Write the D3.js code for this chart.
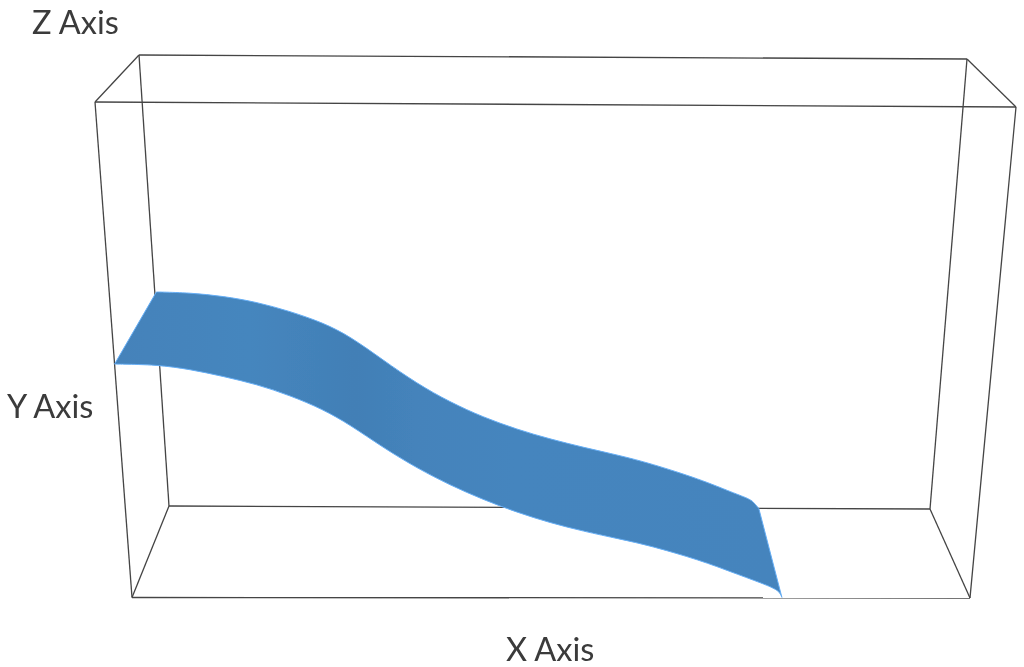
<!DOCTYPE html>
<html><head><meta charset="utf-8">
<script src="https://cdn.jsdelivr.net/npm/d3@7"></script>
<style>html,body{margin:0;padding:0;background:#fff}svg{display:block}text{font-family:Lato,sans-serif;fill:#3a3a3a}</style>
</head><body><svg id="c" width="1024" height="667"></svg>
<script>
// Surface edges: x and y in percent of the box
const frontX=[0,0.6,4.8,8.56,12.29,16.1,19.8,23.56,26.6,30.36,34.3,38.1,41.9,45.9,49.8,53.7,58.1,61.6,67.7,71.6,75.7,77.2,77.55];
const frontY=[47.1,47.1,47,46.1,44.7,43.1,40.9,38.1,35,30.4,26.2,22.8,19.9,17.3,15.2,13.5,11.9,10.6,7.6,5.1,2.6,1.4,0.1];
const backX=[0.2,0.7,4.44,8.59,12.85,16.96,21.1,24.47,28.58,32.86,37.08,41.32,45.72,50,54.29,59.1,63.05,69.67,74.05,76.4,76.9,77.5];
const backY=[47.45,47.45,47.3,46.6,45.3,43.3,40.8,37.8,32.6,27.4,23.3,20,17.3,15.2,13.4,11.6,9.9,6.4,3.4,2,1.1,0];
const boxCorners=[[0,0,0],[100,0,0],[100,100,0],[0,100,0],[0,0,1],[100,0,1],[100,100,1],[0,100,1]];
const boxEdges=[[0,1],[1,2],[2,3],[3,0],[4,5],[5,6],[6,7],[7,4],[0,4],[1,5],[2,6],[3,7]];
const axisLabels=[{t:"Z Axis",x:32,y:33.5},{t:"Y Axis",x:7,y:418},{t:"X Axis",x:506,y:660.5}];

// Perspective frame: front (z=0) and back (z=1) faces of the box
const h=d3.scaleLinear().domain([0,100]).range([0,1]);
const face={
 0:{bl:[132,597.5],br:[970,598],tl:[95,102],tr:[1016,107]},
 1:{bl:[169,506],br:[930,509],tl:[139,55],tr:[967,59]}
};
function proj(x,y,z){
 const f=face[z], u=h(x), v=h(y);
 const L=d3.interpolateArray(f.bl,f.tl)(v), R=d3.interpolateArray(f.br,f.tr)(v);
 return d3.interpolateArray(L,R)(u);
}
const svg=d3.select("#c");
const defs=svg.append("defs");
const g=defs.append("linearGradient").attr("id","sf").attr("gradientUnits","userSpaceOnUse")
 .attr("x1",115).attr("x2",782).attr("y1",0).attr("y2",0);
[[0,"#4482ba"],[.2,"#4586be"],[.36,"#427fb6"],[.45,"#4483bb"],[.6,"#4585be"],[1,"#4484bd"]]
 .forEach(s=>g.append("stop").attr("offset",s[0]).attr("stop-color",s[1]));
defs.append("filter").attr("id","soft").append("feGaussianBlur").attr("stdDeviation",0.5);

const lay=svg.append("g").attr("filter","url(#soft)");
lay.selectAll("line.e").data(boxEdges).join("line").attr("class","e")
 .each(function(d){
  const p=proj(...boxCorners[d[0]]),q=proj(...boxCorners[d[1]]);
  d3.select(this).attr("x1",p[0]).attr("y1",p[1]).attr("x2",q[0]).attr("y2",q[1]);
 }).attr("stroke","#444").attr("stroke-width",1.3);

const front=frontX.map((x,i)=>proj(x,frontY[i],0));
const back=backX.map((x,i)=>proj(x,backY[i],1));
const lineGen=d3.line().curve(d3.curveBasis);
const outline=lineGen(back)+"L"+lineGen(front.slice().reverse()).slice(1)+"Z";
lay.append("path").attr("d",outline).attr("fill","url(#sf)").attr("stroke","#66aef5").attr("stroke-width",1).attr("stroke-linejoin","round");

svg.selectAll("text").data(axisLabels).join("text").attr("x",d=>d.x).attr("y",d=>d.y)
 .attr("font-size",32.5).attr("filter","url(#soft)").text(d=>d.t);
</script></body></html>
